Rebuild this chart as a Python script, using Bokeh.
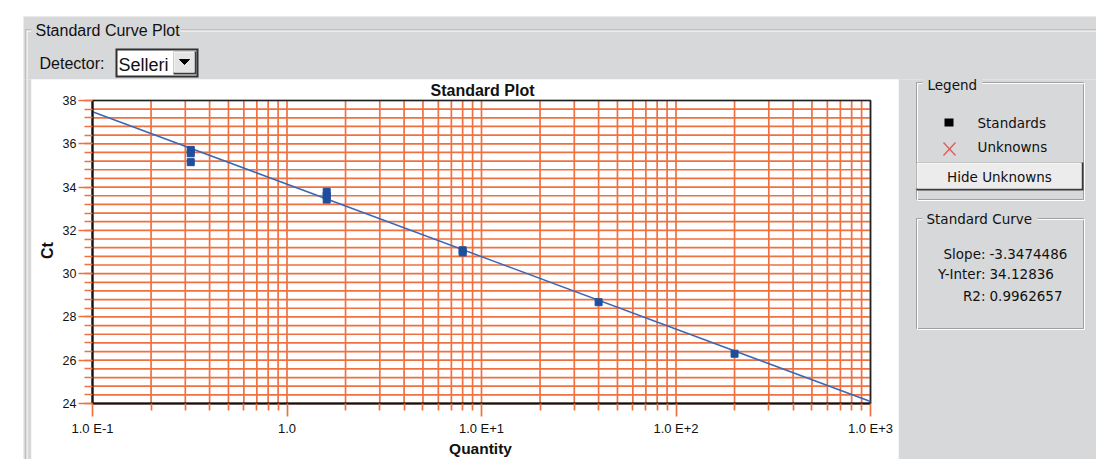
from bokeh.plotting import figure
from bokeh.models import (Range1d, FixedTicker, LogAxis, LinearAxis, LinearScale, LogScale)
from bokeh.embed import file_html
from bokeh.resources import INLINE
from bokeh.core.properties import value
import math

# ---------------- data ----------------
std_qty = [0.32, 0.32, 0.32, 1.6, 1.6, 1.6, 8, 8, 40, 200]
std_ct = [35.72, 35.56, 35.15, 33.78, 33.6, 33.42, 31.08, 30.98, 28.68, 26.3]
fit_qty = [0.1, 1000]
fit_ct = [37.48, 24.09]
slope = -3.3474486
y_inter = 34.12836
r2 = 0.9962657
x_major = [0.1, 1, 10, 100, 1000]
x_labels = ["1.0 E-1", "1.0", "1.0 E+1", "1.0 E+2", "1.0 E+3"]
x_minor = [m * 10 ** e for e in (-1, 0, 1, 2) for m in range(2, 10)]
y_major = [24, 26, 28, 30, 32, 34, 36, 38]
y_minor = [round(24 + 0.4 * k, 1) for k in range(36)]
detector = "Selleri"

# ---------------- layout / styles ----------------
W, H = 1096, 459
FL, FR, FT, FB = 92, 870, 100, 403          # plot frame in page pixels
GRID = "#f0703f"
GREY = "#d7d8da"
DARK = "#111111"
BLUE = "#1f4e9c"
LINEBLUE = "#3b67b5"
UI = "DejaVu Sans"
SANS = "Liberation Sans"

p = figure(width=W, height=H, x_range=Range1d(0, W), y_range=Range1d(H, 0),
           x_axis_location=None, y_axis_location=None, min_border=0,
           output_backend="svg", toolbar_location=None, outline_line_color=None,
           background_fill_color="white", border_fill_color="white")
p.grid.visible = False

# plot scales mapped onto the frame pixels
dec = (FR - FL) / (math.log10(x_major[-1]) - math.log10(x_major[0]))
q0 = x_major[0] * 10 ** (-FL / dec)
q1 = x_major[-1] * 10 ** ((W - FR) / dec)
upp = (y_major[-1] - y_major[0]) / (FB - FT)
c0 = y_major[0] - (H - FB) * upp
c1 = y_major[-1] + FT * upp
p.extra_x_ranges = {"q": Range1d(q0, q1)}
p.extra_x_scales = {"q": LogScale()}
p.extra_y_ranges = {"ct": Range1d(c0, c1)}
p.extra_y_scales = {"ct": LinearScale()}
R = dict(x_range_name="q", y_range_name="ct")


def quads(rects, color):
    p.quad(left=[r[0] for r in rects], right=[r[1] for r in rects],
           top=[r[2] for r in rects], bottom=[r[3] for r in rects],
           fill_color=color, line_color=None)


def outline(l, r, t, b, color):
    p.quad(left=[l], right=[r], top=[t], bottom=[b], fill_alpha=0,
           line_color=color, line_width=1)


def text(x, y, s, font=SANS, size="16px", align="left", style="normal",
         color=DARK, angle=0):
    p.text(x=[x], y=[y], text=[s], text_font=value(font), text_font_size=value(size),
           text_align=value(align), text_baseline=value("middle"),
           text_font_style=value(style), text_color=color, angle=angle)


# ---------------- window chrome ----------------
quads([(23, W, 16, 79), (23, 31, 79, H), (898, W, 79, H)], GREY)
quads([(31, 898, 79, H)], "white")
# etched group box "Standard Curve Plot"
quads([(25, W, 29, 30), (25, 26, 29, H)], "#a6a6a6")
quads([(26, W, 30, 31), (26, 27, 30, H)], "#ffffff")
quads([(31, 180, 26, 34)], GREY)
text(35, 30, "Standard Curve Plot", size="16px")

# detector combo box
text(39, 62.5, "Detector:", size="16px")
quads([(115, 198, 48, 77)], "#303030")
quads([(117, 196, 50, 75)], "#ffffff")
text(118, 64, detector, size="18px")
quads([(173, 196, 51, 74)], "#3a3a3a")
quads([(173, 194, 51, 72)], "#ffffff")
quads([(174, 194, 52, 72)], "#e4e4e4")
p.patch(x=[179, 189, 184], y=[59, 59, 64], fill_color="black", line_color="black")

# legend group
outline(916, 1083, 82, 199, "#a0a0a0")
outline(917, 1084, 83, 200, "#ffffff")
quads([(922, 982, 78, 88)], GREY)
text(927, 84, "Legend", font=UI, size="13.5px")
quads([(944, 953, 118, 126)], "black")
text(977, 122, "Standards", font=UI, size="13.5px")
p.segment(x0=[943, 955], y0=[142, 142], x1=[955, 943], y1=[155, 155],
          line_color="#e05a5a", line_width=1.3)
text(977, 146, "Unknowns", font=UI, size="13.5px")
quads([(916, 1083, 162, 190)], "#3a3a3a")
quads([(916, 1081, 162, 188)], "#ffffff")
quads([(917, 1081, 163, 188)], "#ececec")
text(999, 176, "Hide Unknowns", font=UI, size="13.5px", align="center")

# standard curve group
outline(916, 1083, 218, 328, "#a0a0a0")
outline(917, 1084, 219, 329, "#ffffff")
quads([(922, 1037, 212, 224)], GREY)
text(926, 218, "Standard Curve", font=UI, size="13.5px")
for yy, name, val in ((253, "Slope:", slope), (273, "Y-Inter:", y_inter), (295, "R2:", r2)):
    text(985, yy, name, font=UI, size="13.5px", align="right")
    text(989, yy, f"{val}", font=UI, size="13.5px")

# plot titles
text((FL + FR) / 2 + 1, 90, "Standard Plot", size="16px", align="center", style="bold")
text(46.5, 250, "Ct", size="16px", align="center", style="bold", angle=math.pi / 2)
text(480, 448, "Quantity", size="15.5px", align="center", style="bold")

# ---------------- the plot itself ----------------
vx = x_major + x_minor
p.segment(x0=vx, y0=[y_major[0]] * len(vx), x1=vx, y1=[y_major[-1]] * len(vx),
          line_color=GRID, line_width=1.7, **R)
p.segment(x0=[x_major[0]] * len(y_minor), y0=y_minor, x1=[x_major[-1]] * len(y_minor),
          y1=y_minor, line_color=GRID, line_width=1.7, **R)
p.quad(left=[x_major[0]], right=[x_major[-1]], bottom=[y_major[0]], top=[y_major[-1]],
       fill_alpha=0, line_color="#222222", line_width=1.6, **R)
p.line(fit_qty, fit_ct, line_color=LINEBLUE, line_width=1.5, **R)
p.scatter(std_qty, std_ct, marker="square", size=7, fill_color=BLUE, line_color=BLUE, **R)

xa = LogAxis(fixed_location=y_major[0], bounds=(x_major[0], x_major[-1]),
             ticker=FixedTicker(ticks=x_major, minor_ticks=x_minor),
             major_label_overrides={k: v for k, v in zip(x_major, x_labels)}, **R)
ya = LinearAxis(fixed_location=x_major[0], bounds=(y_major[0], y_major[-1]),
                ticker=FixedTicker(ticks=y_major, minor_ticks=y_minor), **R)
for ax in (xa, ya):
    ax.axis_line_color = DARK
    ax.axis_line_width = 2
    ax.major_tick_line_color = GRID
    ax.minor_tick_line_color = GRID
    ax.major_tick_line_width = 1.7
    ax.minor_tick_line_width = 1.7
    ax.major_tick_in = 0
    ax.minor_tick_in = 0
    ax.major_label_text_font = SANS
    ax.major_label_text_color = DARK
xa.major_tick_out = 13
xa.minor_tick_out = 7
xa.major_label_standoff = 4
xa.major_label_text_font_size = "13px"
ya.major_tick_out = 14
ya.minor_tick_out = 8
ya.major_label_standoff = 2
ya.major_label_text_font_size = "12.5px"
p.add_layout(xa, "below")
p.add_layout(ya, "left")

open("out.html", "w").write(file_html(p, INLINE))
